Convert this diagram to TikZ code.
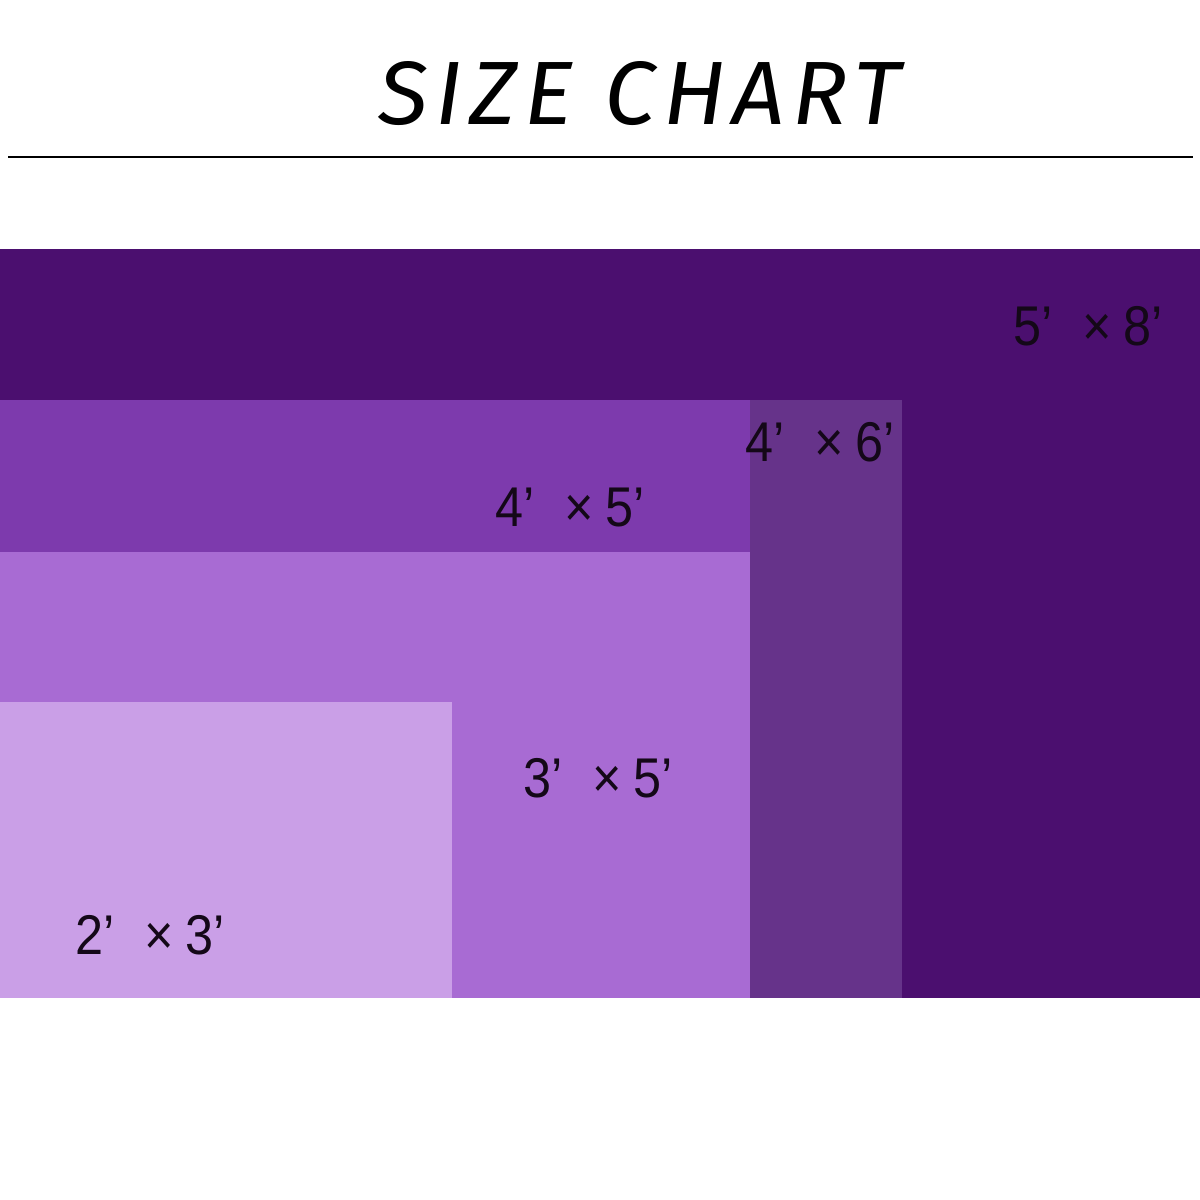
\documentclass[tikz,border=0pt]{standalone}
\usepackage{fontspec}
\setmainfont{Liberation Sans}
\newfontfamily\titlefont[LetterSpace=8]{Fira Sans Italic}
\definecolor{c58}{HTML}{4B0F6F}
\definecolor{c46}{HTML}{66338A}
\definecolor{c45}{HTML}{7D3AAD}
\definecolor{c35}{HTML}{A86BD3}
\definecolor{c23}{HTML}{CA9FE7}
\definecolor{ink}{HTML}{140818}
\tikzset{
  rug/.style={draw=none},
  lab/.style={anchor=base west, inner sep=0pt, text=ink, font=\fontsize{56}{60}\selectfont},
}
\newcommand{\rugsize}[2]{\scalebox{0.9}[1]{#1’\hspace{0.6em}×\hspace{0.22em}#2’}}
\begin{document}
\begin{tikzpicture}[x=1pt,y=-1pt]
\useasboundingbox (0,0) rectangle (1200,1200);
\fill[white] (0,0) rectangle (1200,1200);
\node[anchor=base west, inner sep=0pt] (title) at (378,124) {\resizebox{522pt}{63pt}{\titlefont SIZE CHART}};
\coordinate (l1) at (8,157);
\coordinate (l2) at (1193,157);
\draw[line width=1.2pt] (l1) -- (l2);
\fill[c58] (0,249) rectangle (1200,998);
\fill[c46] (0,400) rectangle (902,998);
\fill[c45] (0,400) rectangle (750,998);
\fill[c35] (0,552) rectangle (750,998);
\fill[c23] (0,702) rectangle (452,998);
\node[lab] (s58) at (1013,345) {\rugsize{5}{8}};
\node[lab] (s46) at (745,461) {\rugsize{4}{6}};
\node[lab] (s45) at (495,526) {\rugsize{4}{5}};
\node[lab] (s35) at (523,797) {\rugsize{3}{5}};
\node[lab] (s23) at (75,954) {\rugsize{2}{3}};
\end{tikzpicture}
\end{document}
